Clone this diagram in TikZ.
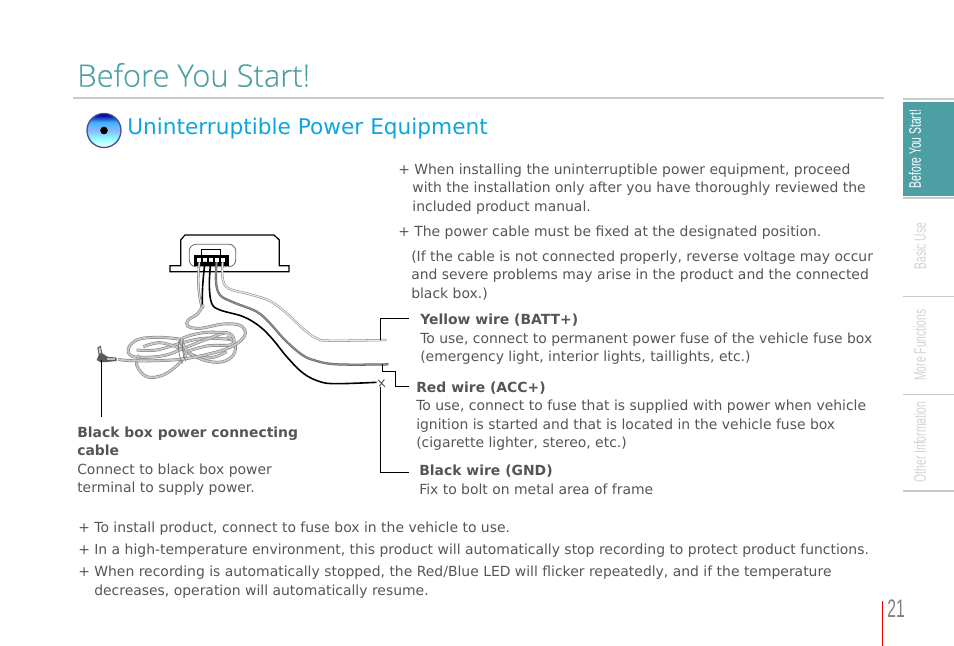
\documentclass[tikz,border=0pt]{standalone}
\usepackage{fontspec}
\setmainfont{DejaVu Sans}
\newfontfamily\titlefont{Open Sans}[UprightFont=* Light,FakeBold=0.25]
\newfontfamily\narrowfont[FakeStretch=0.62]{Liberation Sans}
\definecolor{tealbar}{HTML}{4C9FA3}
\definecolor{headblue}{HTML}{0DA5DF}
\definecolor{bodygrey}{HTML}{555555}
\definecolor{rulegrey}{HTML}{C6CCCA}
\pgfdeclareverticalshading{eyeball}{100bp}{color(0bp)=(white); color(25bp)=(white); color(38bp)=(cyan!45!white); color(50bp)=(cyan!40!blue!45!white); color(62bp)=(blue!40!cyan!75); color(73bp)=(blue!60!black); color(100bp)=(blue!60!black)}
\tikzset{
	txt/.style={anchor=north west,inner sep=0pt,align=left,text=bodygrey,font=\fontsize{10.45pt}{13.75pt}\selectfont},
	tab/.style={rotate=90,inner sep=0pt,text=rulegrey!85,font=\narrowfont\fontsize{12.5pt}{13pt}\selectfont},
	callout/.style={draw=black,line width=0.6pt},
	cable/.style={draw=black!50,double=black!22,double distance=1.4pt,line width=0.4pt},
	wire/.style={draw=black!55,double=black!25,double distance=0.9pt,line width=0.4pt},
}
\begin{document}
\begin{tikzpicture}[x=0.75pt,y=-0.75pt]
	\useasboundingbox (0,0) rectangle (954,646);
	% title
	\node[anchor=west,inner sep=0pt,text=tealbar,font=\titlefont\fontsize{23.2pt}{28pt}\selectfont] (title) at (77,75) {Before You Start!};
	\draw[rulegrey,line width=1.2pt] (73,98) -- (884,98);
	\shade[shading=eyeball] (104,130.5) circle(17);
	\draw[black!30!blue!40!gray,line width=1pt] (104,130.5) circle(17);
	\fill[black] (104,130.5) circle(3.8);
	\node[anchor=west,inner sep=0pt,text=headblue,font=\fontsize{16.25pt}{20pt}\selectfont] (head) at (127,129) {Uninterruptible Power Equipment};
	% side tabs
	\fill[tealbar] (903,102) rectangle (954,196);
	\foreach \y in {99,198,296.5,394.5,491}
		\draw[rulegrey,line width=0.8pt] (903,\y) -- (954,\y);
	\node[tab,text=white] (tabA) at (915,149) {Before You Start!};
	\node[tab] (tabB) at (920,246) {Basic Use};
	\node[tab] (tabC) at (920,345) {More Functions};
	\node[tab] (tabD) at (920,442) {Other Information};
	% page number
	\draw[red!90!black,line width=0.8pt] (882.5,601) -- (882.5,646);
	\node[anchor=west,inner sep=0pt,text=black!50,font=\narrowfont\fontsize{19pt}{20pt}\selectfont] (page) at (887,609) {21};
	% right column
	\node[txt] (noteA) at (398,163.5) {+ When installing the uninterruptible power equipment, proceed\\
		\hspace{10.6pt}with the installation only after you have thoroughly reviewed the\\
		\hspace{10.6pt}included product manual.};
	\node[txt] (noteB) at (398,225.5) {+ The power cable must be fixed at the designated position.};
	\node[txt] (noteC) at (411,250.5) {(If the cable is not connected properly, reverse voltage may occur\\and severe problems may arise in the product and the connected\\black box.)};
	\node[txt] (yellow) at (420,314) {\textbf{Yellow wire (BATT+)}\\To use, connect to permanent power fuse of the vehicle fuse box\\(emergency light, interior lights, taillights, etc.)};
	\node[txt] (redw) at (416,381.5) {\textbf{Red wire (ACC+)}\\To use, connect to fuse that is supplied with power when vehicle\\ignition is started and that is located in the vehicle fuse box\\(cigarette lighter, stereo, etc.)};
	\node[txt] (blackw) at (419,465) {\textbf{Black wire (GND)}\\Fix to bolt on metal area of frame};
	\node[txt] (powercable) at (77,426.5) {\textbf{Black box power connecting}\\\textbf{cable}\\Connect to black box power\\terminal to supply power.};
	% bottom notes
	\node[txt] (footA) at (78,522) {+ To install product, connect to fuse box in the vehicle to use.};
	\node[txt] (footB) at (78,544) {+ In a high-temperature environment, this product will automatically stop recording to protect product functions.};
	\node[txt] (footC) at (78,566) {+ When recording is automatically stopped, the Red/Blue LED will flicker repeatedly, and if the temperature\\
		\hspace{12pt}decreases, operation will automatically resume.};
	% device, in crop units
	\begin{scope}[shift={(70,225)},x=0.25pt,y=-0.25pt]
		\coordinate (Y) at (930,345);
		\coordinate (R) at (938,418);
		\coordinate (B) at (930,485);
		\coordinate (P) at (95,405);
		\draw[black,line width=0.9pt] (300,140) -- (300,122) -- (332,122) -- (332,45) -- (345,30) -- (612,30) -- (628,45) -- (628,122) -- (657,122) -- (657,140) -- cycle;
		\draw[black!60,line width=0.6pt,rounded corners=5pt] (358,58) rectangle (497,125);
		\draw[black,line width=0.7pt] (394,90) -- (394,72) -- (452,72) -- (452,90);
		\fill[black] (372,90) rectangle (476,122);
		\foreach \x in {388,405,422,440,458}
			\fill[white] (\x-6,98) rectangle (\x+6,112);
		% wires
		\draw[wire,double=black!12] (388,112) .. controls (382,170) and (385,210) .. (395,245);
		\draw[black,line width=1.2pt] (405,110) .. controls (398,170) and (395,210) .. (398,250);
		\draw[wire,draw=black!45,double=black!8] plot[smooth,tension=0.6] coordinates {(458,112) (458,160) (475,190) (540,208) (600,228) (650,265) (700,312) (740,340) (780,347) (950,345)};
		\draw[wire,draw=black!60,double=black!45] plot[smooth,tension=0.6] coordinates {(440,112) (438,170) (450,210) (490,232) (560,260) (600,295) (640,340) (690,385) (730,405) (800,418) (955,418)};
		\draw[black,line width=1.2pt] plot[smooth,tension=0.6] coordinates {(422,110) (418,180) (425,235) (450,255) (520,275) (570,305) (610,345) (650,395) (700,445) (750,470) (800,476) (920,472)};
		\draw[black!70,line width=0.7pt] (925,465) -- (945,485) (943,463) -- (928,484);
		% coil
		\begin{scope}[shift={(60,225)}]
			\draw[cable] plot[smooth,tension=0.6] coordinates {(140,150) (200,150) (270,130) (340,115) (420,118)};
			\draw[cable] plot[smooth,tension=0.6] coordinates {(160,140) (210,128) (270,145) (320,170) (370,172) (410,155)};
			\draw[cable] plot[smooth,tension=0.6] coordinates {(270,118) (285,150) (340,180) (395,186) (430,165) (435,130) (410,110)};
			\draw[cable] plot[smooth,tension=0.6] coordinates {(275,118) (210,112) (145,118) (115,145) (125,168) (170,172) (230,165) (280,145) (350,118) (410,98) (432,118) (420,135) (350,138) (280,158)};
			\draw[cable] plot[smooth,tension=0.6] coordinates {(148,165) (140,195) (170,230) (220,225) (268,190) (290,155) (275,118) (340,98) (405,98)};
			\draw[cable] plot[smooth,tension=0.6] coordinates {(340,15) (322,42) (295,60) (293,78) (330,85) (400,72) (450,76) (466,100) (445,128) (400,150) (330,168) (270,178) (200,182) (120,182) (85,178)};
			\draw[black!55,line width=0.5pt] (268,118) .. controls (262,145) and (268,175) .. (278,190) (280,116) .. controls (274,145) and (280,172) .. (288,184);
		\end{scope}
		% plug
		\fill[black!65] (82,368) -- (92,362) -- (97,385) -- (112,395) -- (140,398) -- (140,408) -- (110,411) -- (92,412) -- (80,405) -- (86,390) -- cycle;
		\fill[black!15] (86,370) -- (91,367) -- (93,385) -- (88,385) -- cycle;
		\fill[black!25] (112,399) rectangle (136,406);
		% leader lines
		\draw[callout] (Y) -- (930,281) -- (1018,281);
		\draw[callout] (R) -- (938,440) -- (975,440) -- (975,485) -- (1018,485);
		\draw[callout] (B) -- (930,742) -- (1018,742);
		\draw[callout] (P) -- (95,575);
	\end{scope}
\end{tikzpicture}
\end{document}
